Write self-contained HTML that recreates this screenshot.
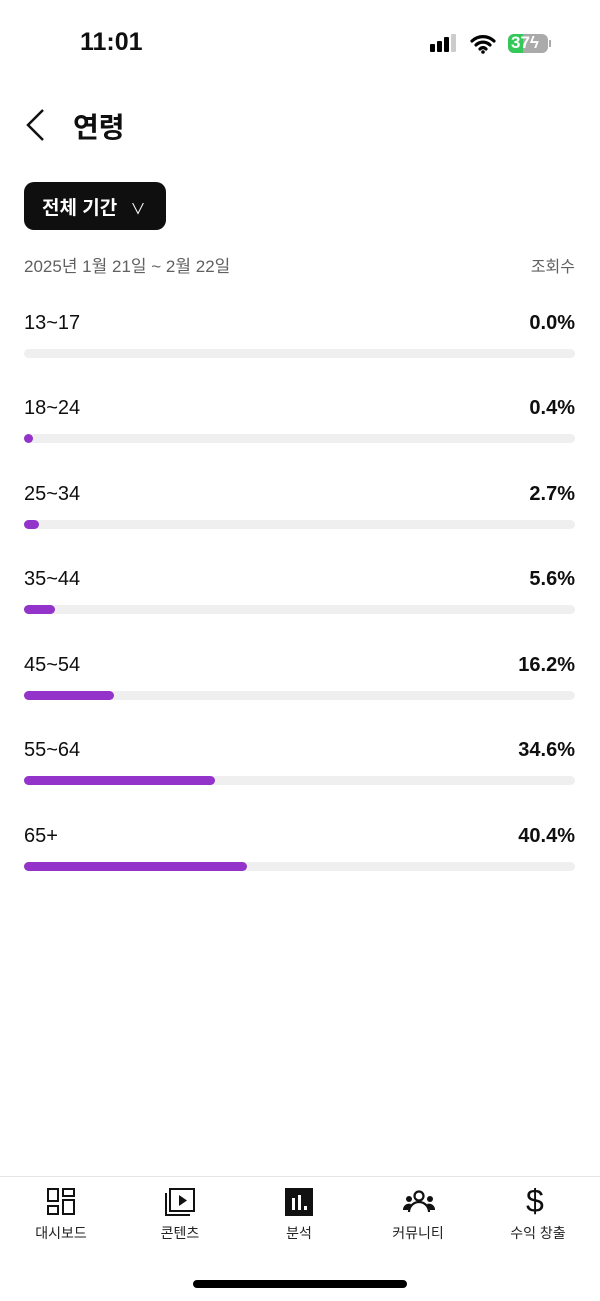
<!DOCTYPE html>
<html><head><meta charset="utf-8"><style>
*{margin:0;padding:0;box-sizing:border-box}
body{width:600px;height:1301px;background:#fff;position:relative;overflow:hidden;font-family:"Liberation Sans","Noto Sans CJK KR",sans-serif;color:#0f0f0f}
.a{position:absolute}
.lbl{font-size:20px;left:24px}
.pct{font-size:20px;font-weight:bold;right:25px}
.trk{left:24px;width:551px;height:9px;border-radius:5px;background:#efefef}
.bar{left:24px;height:9px;border-radius:5px;background:#9333c9}
.nav{font-size:14px;color:#222;text-align:center;width:120px}
</style></head><body>
<div class="a" style="left:80px;top:28px;font-size:25px;font-weight:bold">11:01</div>
<div class="a" style="left:430px;top:44px;width:5px;height:8px;background:#000;border-radius:1px"></div>
<div class="a" style="left:437px;top:41px;width:5px;height:11px;background:#000;border-radius:1px"></div>
<div class="a" style="left:444px;top:37px;width:5px;height:15px;background:#000;border-radius:1px"></div>
<div class="a" style="left:451px;top:34px;width:5px;height:18px;background:#ccc;border-radius:1px"></div>
<svg class="a" style="left:470px;top:34px" width="26" height="20" viewBox="0 0 26 20"><path d="M2 7a16 16 0 0 1 22 0M6 11a10 10 0 0 1 14 0M10 15a4 4 0 0 1 6 0" stroke="#000" stroke-width="3.2" fill="none" stroke-linecap="round"/><circle cx="13" cy="18" r="1.8"/></svg>
<div class="a" style="left:508px;top:34px;width:40px;height:19px;border-radius:6px;background:#aaa;overflow:hidden"><div style="width:15px;height:19px;background:#34c759"></div></div>
<div class="a" style="left:511px;top:33px;font-size:17px;font-weight:bold;color:#fff">37ϟ</div>
<div class="a" style="left:549px;top:40px;width:2px;height:7px;background:#aaa"></div>
<svg class="a" style="left:24px;top:108px" width="22" height="34"><path d="M19 2L4 17l15 15" stroke="#111" stroke-width="2.5" fill="none"/></svg>
<div class="a" style="left:73px;top:106px;font-size:28px;font-weight:bold">연령</div>
<div class="a" style="left:24px;top:182px;width:142px;height:48px;border-radius:10px;background:#0f0f0f;color:#fff;font-size:19px;font-weight:bold;padding:11px 0 0 18px">전체 기간 <span style="font-weight:normal;font-size:15px;margin-left:8px">∨</span></div>
<div class="a" style="left:24px;top:252px;font-size:17px;color:#606060">2025년 1월 21일 ~ 2월 22일</div>
<div class="a" style="right:25px;top:253px;font-size:16px;color:#606060">조회수</div>

<div class="a lbl" style="top:312px">13~17</div><div class="a pct" style="top:312px">0.0%</div><div class="a trk" style="top:349px"></div>
<div class="a lbl" style="top:397px">18~24</div><div class="a pct" style="top:397px">0.4%</div><div class="a trk" style="top:434px"></div><div class="a bar" style="top:434px;width:9px"></div>
<div class="a lbl" style="top:483px">25~34</div><div class="a pct" style="top:483px">2.7%</div><div class="a trk" style="top:520px"></div><div class="a bar" style="top:520px;width:15px"></div>
<div class="a lbl" style="top:568px">35~44</div><div class="a pct" style="top:568px">5.6%</div><div class="a trk" style="top:605px"></div><div class="a bar" style="top:605px;width:31px"></div>
<div class="a lbl" style="top:654px">45~54</div><div class="a pct" style="top:654px">16.2%</div><div class="a trk" style="top:691px"></div><div class="a bar" style="top:691px;width:90px"></div>
<div class="a lbl" style="top:739px">55~64</div><div class="a pct" style="top:739px">34.6%</div><div class="a trk" style="top:776px"></div><div class="a bar" style="top:776px;width:191px"></div>
<div class="a lbl" style="top:825px">65+</div><div class="a pct" style="top:825px">40.4%</div><div class="a trk" style="top:862px"></div><div class="a bar" style="top:862px;width:223px"></div>

<div class="a" style="left:0;top:1176px;width:600px;height:1px;background:#e5e5e5"></div>
<svg class="a" style="left:47px;top:1188px" width="30" height="28"><g fill="none" stroke="#111" stroke-width="2"><rect x="1" y="1" width="10" height="12"/><rect x="16" y="1" width="11" height="7"/><rect x="1" y="18" width="10" height="8"/><rect x="16" y="12" width="11" height="14"/></g></svg>
<svg class="a" style="left:164px;top:1188px" width="32" height="28"><g fill="none" stroke="#111" stroke-width="2"><rect x="6" y="1" width="24" height="22"/><path d="M2 5v22h24"/></g><path d="M15 7v11l8-5.5z" fill="#111"/></svg>
<svg class="a" style="left:285px;top:1188px" width="28" height="28"><rect width="28" height="28" fill="#111"/><g fill="#fff"><rect x="7" y="10" width="3" height="12"/><rect x="13" y="7" width="3" height="15"/><rect x="19" y="18" width="3" height="4"/></g></svg>
<svg class="a" style="left:403px;top:1190px" width="32" height="24"><g fill="none" stroke="#111" stroke-width="2.2"><circle cx="16" cy="6" r="4.5"/><path d="M6 22a10 10 0 0 1 20 0"/></g><g fill="#111"><circle cx="6" cy="9" r="3"/><circle cx="27" cy="9" r="3"/><path d="M0 20a6 6 0 0 1 8-6l-3 6zM32 20a6 6 0 0 0-8-6l3 6z"/></g></svg>
<div class="a" style="left:526px;top:1183px;font-size:32px;font-weight:300">$</div>
<div class="a nav" style="left:1px;top:1223px">대시보드</div>
<div class="a nav" style="left:120px;top:1223px">콘텐츠</div>
<div class="a nav" style="left:239px;top:1223px">분석</div>
<div class="a nav" style="left:358px;top:1223px">커뮤니티</div>
<div class="a nav" style="left:478px;top:1223px">수익 창출</div>
<div class="a" style="left:193px;top:1280px;width:214px;height:8px;border-radius:4px;background:#000"></div>
</body></html>
